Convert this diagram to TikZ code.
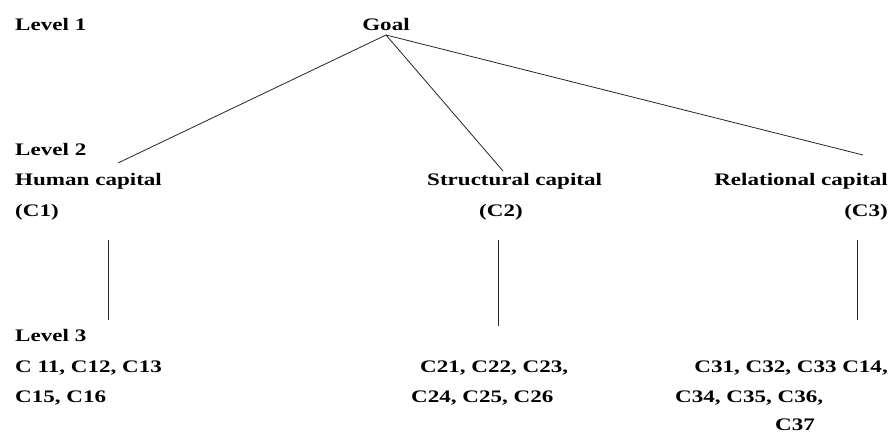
\documentclass[tikz,border=0pt]{standalone}
\usepackage{fontspec}
\setmainfont[FakeStretch=1.31]{Liberation Serif}
\begin{document}
\begin{tikzpicture}[x=1pt,y=-1pt,
  lbl/.style={inner sep=0pt,anchor=base west,font=\fontsize{17.6}{20}\selectfont\bfseries},
  link/.style={draw=black!85,line width=0.8pt}]
\useasboundingbox[fill=white] (0,0) rectangle (892,435);
% level labels
\node[lbl] (lv1) at (15,31) {Level 1};
\node[lbl] (lv2) at (15,156) {Level 2};
\node[lbl] (lv3) at (15,342) {Level 3};
% goal
\node[lbl,anchor=base] (goal) at (386,31) {Goal};
% level 2
\node[lbl] (hc) at (15,186) {Human capital};
\node[lbl] (hcc) at (15,217) {(C1)};
\node[lbl] (sc) at (427,186) {Structural capital};
\node[lbl] (scc) at (479,217) {(C2)};
\node[lbl,anchor=base east] (rc) at (888,186) {Relational capital};
\node[lbl,anchor=base east] (rcc) at (888,217) {(C3)};
% level 3
\node[lbl] (h1) at (15,373) {C 11, C12, C13};
\node[lbl] (h2) at (15,403) {C15, C16};
\node[lbl] (s1) at (420,373) {C21, C22, C23,};
\node[lbl] (s2) at (411,403) {C24, C25, C26};
\node[lbl,anchor=base east] (r1) at (888,373) {C31, C32, C33 C14,};
\node[lbl] (r2) at (675,403) {C34, C35, C36,};
\node[lbl] (r3) at (775,431) {C37};
% connector end points
\coordinate (gp) at (386,35);
\coordinate (hcend) at (118,163);
\coordinate (scend) at (503,171);
\coordinate (rcend) at (863,155);
\coordinate (hv1) at (108,240);
\coordinate (hv2) at (108,320);
\coordinate (sv1) at (498,240);
\coordinate (sv2) at (498,326);
\coordinate (rv1) at (857,240);
\coordinate (rv2) at (857,320);
% connectors
\draw[link] (gp) -- (hcend);
\draw[link] (gp) -- (scend);
\draw[link] (gp) -- (rcend);
\draw[link] (hv1) -- (hv2);
\draw[link] (sv1) -- (sv2);
\draw[link] (rv1) -- (rv2);
\end{tikzpicture}
\end{document}
